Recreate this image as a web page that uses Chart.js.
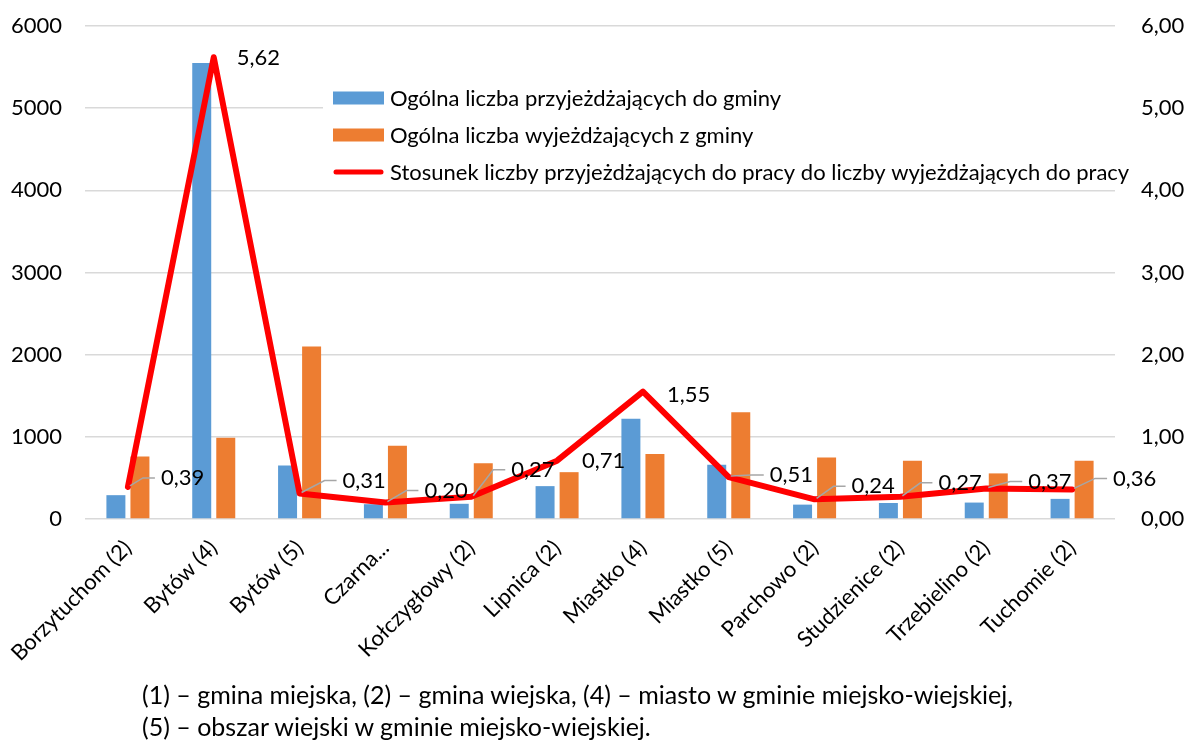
<!DOCTYPE html>
<html>
<head>
<meta charset="utf-8">
<script src="https://cdn.jsdelivr.net/npm/chart.js@4.4.1/dist/chart.umd.min.js"></script>
<style>
  body { margin: 0; background: #fff; }
  #wrap { position: relative; width: 1187px; height: 740px; }
  #note { position: absolute; left: 142px; top: 678px; font: 25px Lato, sans-serif; line-height: 32px; color: #000; white-space: nowrap; }
</style>
</head>
<body>
<div id="wrap">
  <canvas id="chart" width="1187" height="740"></canvas>
  <div id="note">(1) – gmina miejska, (2) – gmina wiejska, (4) – miasto w gminie miejsko-wiejskiej,<br>(5) – obszar wiejski w gminie miejsko-wiejskiej.</div>
</div>
<script>
// data
const categories = ['Borzytuchom (2)', 'Bytów (4)', 'Bytów (5)', 'Czarna...', 'Kołczygłowy (2)', 'Lipnica (2)',
  'Miastko (4)', 'Miastko (5)', 'Parchowo (2)', 'Studzienice (2)', 'Trzebielino (2)', 'Tuchomie (2)'];
const arrivals   = [290, 5550, 650, 180, 185, 400, 1220, 660, 175, 195, 200, 245];
const departures = [760, 990, 2100, 890, 680, 570, 790, 1300, 750, 710, 555, 710];
const ratio      = [0.39, 5.62, 0.31, 0.20, 0.27, 0.71, 1.55, 0.51, 0.24, 0.27, 0.37, 0.36];
const leftTicks  = [0, 1000, 2000, 3000, 4000, 5000, 6000];
const rightTicks = ['0,00', '1,00', '2,00', '3,00', '4,00', '5,00', '6,00'];

const FONT = { family: 'Lato, sans-serif', size: 22 };
const fmt = v => v.toFixed(2).replace('.', ',');

// label offsets (dx, dy, leader) for the ratio labels
const labelShift = [
  [33, -9, true], [23, 1, false], [43, -13, true], [39, -12, true], [40, -27, true], [25, 0, false],
  [24, 3, false], [41, -2, true], [37, -13, true], [38, -14, true], [42, -7, true], [41, -11, true]
];

const ratioLabels = {
  id: 'ratioLabels',
  afterDatasetsDraw(chart) {
    const meta = chart.getDatasetMeta(2);
    const ctx = chart.ctx;
    ctx.save();
    ctx.font = FONT.size + 'px ' + FONT.family;
    ctx.textBaseline = 'middle';
    ctx.textAlign = 'left';
    meta.data.forEach((pt, i) => {
      const [dx, dy, leader] = labelShift[i];
      const tx = pt.x + dx, ty = pt.y + dy;
      if (leader) {
        ctx.strokeStyle = '#a6a6a6';
        ctx.lineWidth = 1.5;
        ctx.beginPath();
        ctx.moveTo(pt.x + 2, pt.y - 1);
        ctx.lineTo(tx - 18, ty);
        ctx.lineTo(tx - 6, ty);
        ctx.stroke();
      }
      ctx.fillStyle = '#000';
      ctx.fillText(fmt(ratio[i]), tx, ty);
    });
    ctx.restore();
  }
};

const boxLegend = {
  id: 'boxLegend',
  afterDraw(chart) {
    const ctx = chart.ctx;
    ctx.save();
    ctx.fillStyle = '#fff';
    ctx.fillRect(323, 75, 812, 114);
    ctx.font = FONT.size + 'px ' + FONT.family;
    ctx.textBaseline = 'middle';
    chart.data.datasets.forEach((ds, i) => {
      const y = 98 + i * 37;
      if (ds.type === 'line') {
        ctx.strokeStyle = ds.borderColor;
        ctx.lineWidth = 5;
        ctx.lineCap = 'round';
        ctx.beginPath();
        ctx.moveTo(336, y);
        ctx.lineTo(381, y);
        ctx.stroke();
      } else {
        ctx.fillStyle = ds.backgroundColor;
        ctx.fillRect(333, y - 6.5, 51, 13);
      }
      ctx.fillStyle = '#000';
      ctx.fillText(ds.label, 390, y + 1);
    });
    ctx.restore();
  }
};

const noPad = s => { s.paddingTop = 0; s.paddingBottom = 0; };

new Chart(document.getElementById('chart').getContext('2d'), {
  type: 'bar',
  data: {
    labels: categories,
    datasets: [
      { type: 'bar', label: 'Ogólna liczba przyjeżdżających do gminy', data: arrivals,
        backgroundColor: '#5b9bd5', yAxisID: 'y', order: 2,
        categoryPercentage: 0.56, barPercentage: 0.79 },
      { type: 'bar', label: 'Ogólna liczba wyjeżdżających z gminy', data: departures,
        backgroundColor: '#ed7d31', yAxisID: 'y', order: 2,
        categoryPercentage: 0.56, barPercentage: 0.79 },
      { type: 'line', label: 'Stosunek liczby przyjeżdżających do pracy do liczby wyjeżdżających do pracy',
        data: ratio, borderColor: '#ff0000', borderWidth: 6, pointRadius: 0, tension: 0,
        borderJoinStyle: 'round', borderCapStyle: 'round', yAxisID: 'y2', order: 1 }
    ]
  },
  options: {
    responsive: false,
    animation: false,
    layout: { padding: { top: 26, right: 0, left: 0, bottom: 0 } },
    plugins: { legend: { display: false }, tooltip: { enabled: false } },
    scales: {
      x: {
        grid: { display: false },
        border: { display: false },
        ticks: { font: FONT, color: '#000', maxRotation: 45, minRotation: 45, autoSkip: false, padding: 8 },
        afterFit: s => { s.height = 221; s.paddingLeft = 0; s.paddingRight = 0; }
      },
      y: {
        position: 'left', min: 0, max: 6000,
        afterBuildTicks: s => { s.ticks = leftTicks.map(v => ({ value: v })); },
        ticks: { font: FONT, color: '#000', padding: 23, callback: v => String(v) },
        grid: { color: '#d9d9d9', lineWidth: 1.5, drawTicks: false },
        border: { display: false },
        afterFit: s => { s.width = 85; noPad(s); }
      },
      y2: {
        position: 'right', min: 0, max: 6,
        afterBuildTicks: s => { s.ticks = rightTicks.map((t, i) => ({ value: i })); },
        ticks: { font: FONT, color: '#000', padding: 26, callback: (v, i) => rightTicks[i] },
        grid: { display: false, drawTicks: false },
        border: { display: false },
        afterFit: s => { s.width = 72; noPad(s); }
      }
    }
  },
  plugins: [ratioLabels, boxLegend]
});
</script>
</body>
</html>
